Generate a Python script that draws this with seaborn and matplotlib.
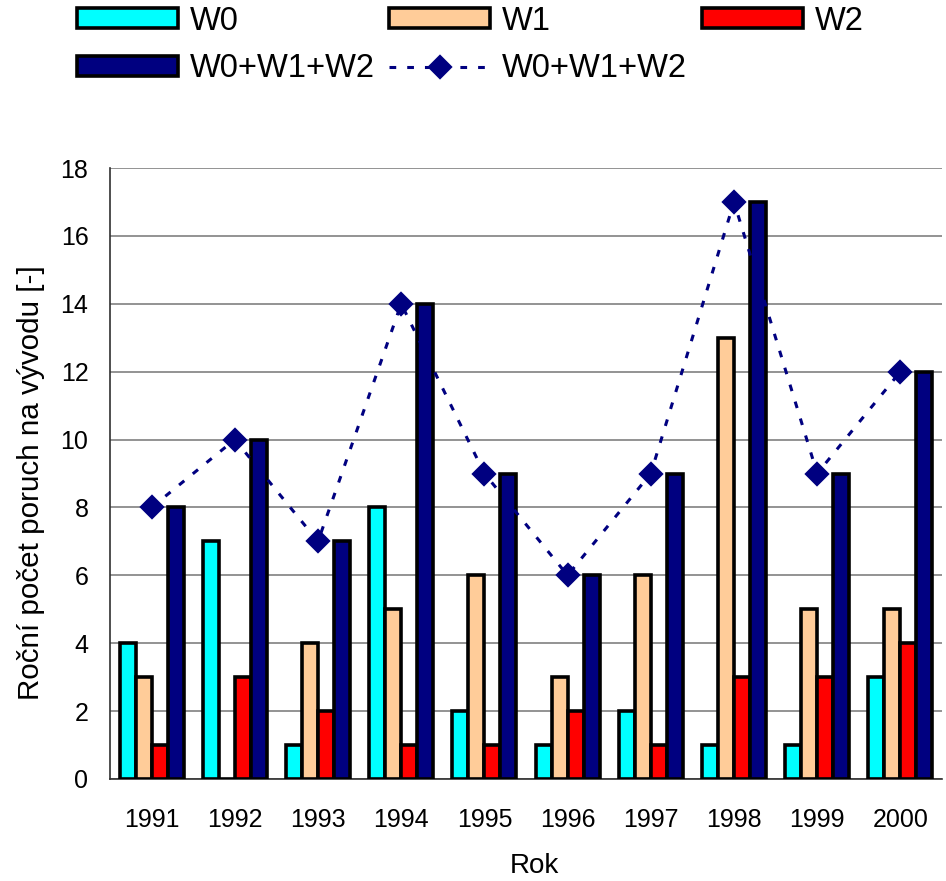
import numpy as np
import pandas as pd
import matplotlib
matplotlib.use("Agg")
import matplotlib.pyplot as plt
import seaborn as sns

years = ["1991", "1992", "1993", "1994", "1995", "1996", "1997", "1998", "1999", "2000"]
w0 = [4, 7, 1, 8, 2, 1, 2, 1, 1, 3]
w1 = [3, 0, 4, 5, 6, 3, 6, 13, 5, 5]
w2 = [1, 3, 2, 1, 1, 2, 1, 3, 3, 4]
total = [8, 10, 7, 14, 9, 6, 9, 17, 9, 12]
series_names = ["W0", "W1", "W2", "W0+W1+W2"]
y_ticks = [0, 2, 4, 6, 8, 10, 12, 14, 16, 18]

sns.set_theme(style="white")
plt.rcParams['font.family'] = ['Liberation Sans', 'DejaVu Sans']
plt.rcParams.update({"text.color": "black", "axes.labelcolor": "black",
                     "xtick.color": "black", "ytick.color": "black"})

df = pd.DataFrame({
    "Rok": years * 4,
    "value": w0 + w1 + w2 + total,
    "series": sum([[s] * len(years) for s in series_names], []),
})
palette = {"W0": "#00FFFF", "W1": "#FFCC99", "W2": "#FF0000", "W0+W1+W2": "#000080"}

fig = plt.figure(figsize=(9.46, 8.81), dpi=100)
ax = fig.add_axes([110/946, 1-779/881, 832/946, (779-168)/881])

sns.barplot(data=df, x="Rok", y="value", hue="series", hue_order=series_names,
            order=years, palette=palette, width=0.77, gap=0, edgecolor="black",
            linewidth=2.6, saturation=1, ax=ax, zorder=3, legend=False)
bar_containers = list(ax.containers)
sns.pointplot(x=years, y=total, color="#000080", markers="D", linestyles=(0, (2.2, 3.6)),
              markersize=11, linewidth=2.2, ax=ax, errorbar=None, zorder=4)
line_handle = [l for l in ax.lines if l.get_marker() == "D"][0]

ax.set_ylim(0, 18)
ax.set_xlim(-0.5, 9.5)
ax.set_yticks(y_ticks)
ax.yaxis.grid(True, color="#808080", linewidth=1.2, zorder=0)
ax.set_axisbelow(True)
for s in ["top", "right"]:
    ax.spines[s].set_visible(False)
for s in ["left", "bottom"]:
    ax.spines[s].set_color("#303030")
    ax.spines[s].set_linewidth(1.2)

ax.set_xticks(np.arange(-0.5, 10, 1), minor=True)
ax.tick_params(axis="x", which="major", length=0, pad=21, labelsize=18)
ax.tick_params(axis="x", which="minor", length=7, width=1.2, color="#303030", direction="out")
ax.tick_params(axis="y", length=7.5, width=1.2, color="#303030", direction="out", pad=8, labelsize=18)
ax.set_xlabel("Rok", fontsize=20)
ax.xaxis.set_label_coords((534 - 110) / 832, (779 - 853) / 611)
ax.set_ylabel("Roční počet poruch na vývodu [-]", fontsize=21.3)
ax.yaxis.set_label_coords((45 - 110) / 832, (779 - 483) / 611)

# order for row-major display with ncol=3: W0, sum-bar, W1, sum-line, W2
order_h = [bar_containers[0], bar_containers[3], bar_containers[1], line_handle, bar_containers[2]]
order_l = ["W0", "W0+W1+W2", "W1", "W0+W1+W2", "W2"]
fs = 23.5
fig.legend(order_h, order_l, ncol=3, loc="upper left", bbox_to_anchor=(77/946, (881 - 5.5)/881),
           frameon=False, prop={'size': fs}, borderpad=0, borderaxespad=0,
           handlelength=3.1, handleheight=0.55, handletextpad=0.36, columnspacing=0.44,
           labelspacing=0.52)

fig.savefig("out.png", dpi=100)
